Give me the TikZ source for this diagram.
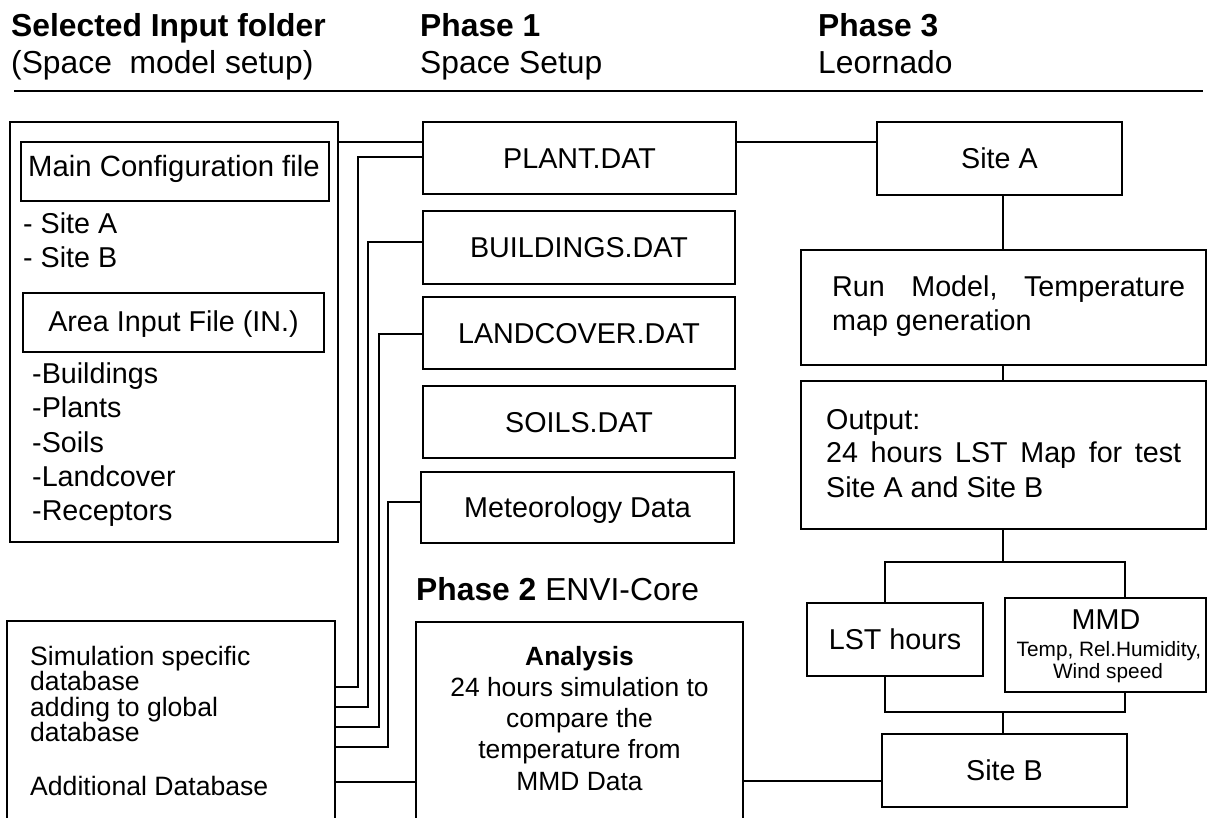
\documentclass[tikz,border=0pt]{standalone}
\usepackage{fontspec}
\setmainfont{Liberation Sans}
\newcommand\fntHead{\fontsize{31.8}{37}\selectfont}
\newcommand\fntBx{\fontsize{28.7}{34}\selectfont}
\newcommand\fntCfg{\fontsize{29.3}{34}\selectfont}
\newcommand\fntSim{\fontsize{26.6}{26}\selectfont}
\newcommand\fntAna{\fontsize{26.4}{31}\selectfont}
\newcommand\fntSmall{\fontsize{20.8}{22}\selectfont}
\tikzset{
  box/.style={draw=black, line width=1.4pt, rectangle, inner sep=0pt, font=\fntBx, text height=20.4pt, text depth=0pt},
  conn/.style={draw=black, line width=1.4pt},
  txt/.style={inner sep=0pt, font=\fntBx},
  head/.style={inner sep=0pt, font=\fntHead, anchor=base west},
  simtxt/.style={inner sep=0pt, font=\fntSim, anchor=base west},
  anatxt/.style={inner sep=0pt, font=\fntAna, anchor=base},
}
\begin{document}
\begin{tikzpicture}[x=1pt,y=-1pt]
\useasboundingbox (0,0) rectangle (1207,817);

% headers
\node[head] (h1a) at (11,36) {\bfseries Selected Input folder};
\node[head] (h1b) at (11,73) {(Space\ \ model setup)};
\node[head] (h2a) at (420,36) {\bfseries Phase 1};
\node[head] (h2b) at (420,73) {Space Setup};
\node[head] (h3a) at (818,36) {\bfseries Phase 3};
\node[head] (h3b) at (818,73) {Leornado};
\draw[line width=2.5pt] (14,91) -- (1203,91);

% left column
\node[box, minimum width=328pt, minimum height=420pt] (infolder) at (174,332) {};
\node[box, minimum width=308pt, minimum height=59pt] (maincfg) at (175,171.5) {};
\node[txt, anchor=base, font=\fntCfg] (maincfgt) at (174,176) {Main Configuration file};
\node[txt, anchor=base west] (sa) at (23,233) {- Site A};
\node[txt, anchor=base west] (sb) at (23,267) {- Site B};
\node[box, minimum width=301pt, minimum height=59pt] (areain) at (173.5,322.5) {};
\node[txt, anchor=base] (areaint) at (173.5,331) {Area Input File (IN.)};
\node[txt, anchor=base west] (i1) at (32,383) {-Buildings};
\node[txt, anchor=base west] (i2) at (32,417) {-Plants};
\node[txt, anchor=base west] (i3) at (32,452) {-Soils};
\node[txt, anchor=base west] (i4) at (32,486) {-Landcover};
\node[txt, anchor=base west] (i5) at (32,520) {-Receptors};

\node[box, minimum width=328pt, minimum height=219pt] (simdb) at (171,730.5) {};
\node[simtxt] (s1) at (30,665) {Simulation specific};
\node[simtxt] (s2) at (30,690) {database};
\node[simtxt] (s3) at (30,716) {adding to global};
\node[simtxt] (s4) at (30,741) {database};
\node[simtxt] (s5) at (30,795) {Additional Database};

% middle column
\node[box, minimum width=313pt, minimum height=72pt] (plant) at (579.5,158) {PLANT.DAT};
\node[box, minimum width=312pt, minimum height=73pt] (buildings) at (579,247.5) {BUILDINGS.DAT};
\node[box, minimum width=312pt, minimum height=72pt] (landcover) at (579,333) {LANDCOVER.DAT};
\node[box, minimum width=312pt, minimum height=72pt] (soils) at (579,422) {SOILS.DAT};
\node[box, minimum width=313pt, minimum height=71pt] (meteo) at (577.5,507.5) {Meteorology Data};

\node[head] (ph2) at (416,600) {\bfseries Phase 2\mdseries\ ENVI-Core};
\node[box, minimum width=327pt, minimum height=218pt] (analysis) at (579.5,731) {};
\node[anatxt] (a1) at (579.5,665) {\bfseries Analysis};
\node[anatxt] (a2) at (579.5,696) {24 hours simulation to};
\node[anatxt] (a3) at (579.5,727) {compare the};
\node[anatxt] (a4) at (579.5,758) {temperature from};
\node[anatxt] (a5) at (579.5,790) {MMD Data};

% right column
\node[box, minimum width=245pt, minimum height=73pt] (siteA) at (999.5,158.5) {Site A};
\node[box, minimum width=405pt, minimum height=115pt] (runmodel) at (1003.5,307.5) {};
\node[txt, anchor=base west] (r1) at (832,296) {\hbox to 353pt{Run\hfill Model,\hfill Temperature}};
\node[txt, anchor=base west] (r2) at (832,330) {map generation};
\node[box, minimum width=405pt, minimum height=148pt] (output) at (1003.5,455) {};
\node[txt, anchor=base west] (o1) at (826,429) {Output:};
\node[txt, anchor=base west] (o2) at (826,462) {\hbox to 355pt{24\hfill hours\hfill LST\hfill Map\hfill for\hfill test}};
\node[txt, anchor=base west] (o3) at (826,497) {Site A and Site B};
\node[box, minimum width=176pt, minimum height=73pt] (lst) at (895,639.5) {LST hours};
\node[box, minimum width=201pt, minimum height=94pt] (mmd) at (1105.5,645) {};
\node[txt, anchor=base] (m1) at (1106,629) {MMD};
\node[txt, anchor=base, font=\fntSmall] (m2) at (1109,656) {Temp, Rel.Humidity,};
\node[txt, anchor=base, font=\fntSmall] (m3) at (1108,678) {Wind speed};
\node[box, minimum width=245pt, minimum height=73pt] (siteB) at (1004.5,770.5) {Site B};

\coordinate (jtop) at (1003,562);
\coordinate (jbot) at (1003,712);

% connectors left
\draw[conn] (infolder.east |- 0,142) -- (plant.west |- 0,142);
\draw[conn] (plant.west |- 0,157) -| (358,687) -- (simdb.east |- 0,687);
\draw[conn] (buildings.west |- 0,242) -| (368,707) -- (simdb.east |- 0,707);
\draw[conn] (landcover.west |- 0,334) -| (379,727) -- (simdb.east |- 0,727);
\draw[conn] (meteo.west |- 0,502) -| (388,747) -- (simdb.east |- 0,747);
\draw[conn] (analysis.west |- 0,782) -- (simdb.east |- 0,782);

% connectors right
\draw[conn] (plant.east |- 0,142) -- (siteA.west |- 0,142);
\draw[conn] (siteA.south -| jtop) -- (runmodel.north -| jtop);
\draw[conn] (runmodel.south -| jtop) -- (output.north -| jtop);
\draw[conn] (output.south -| jtop) -- (jtop);
\draw[conn] (lst.north -| 885,0) |- (1125,562) -- (mmd.north -| 1125,0);
\draw[conn] (lst.south -| 885,0) |- (1125,712) -- (mmd.south -| 1125,0);
\draw[conn] (jbot) -- (siteB.north -| jbot);
\draw[conn] (analysis.east |- 0,781) -- (siteB.west |- 0,781);
\end{tikzpicture}
\end{document}
